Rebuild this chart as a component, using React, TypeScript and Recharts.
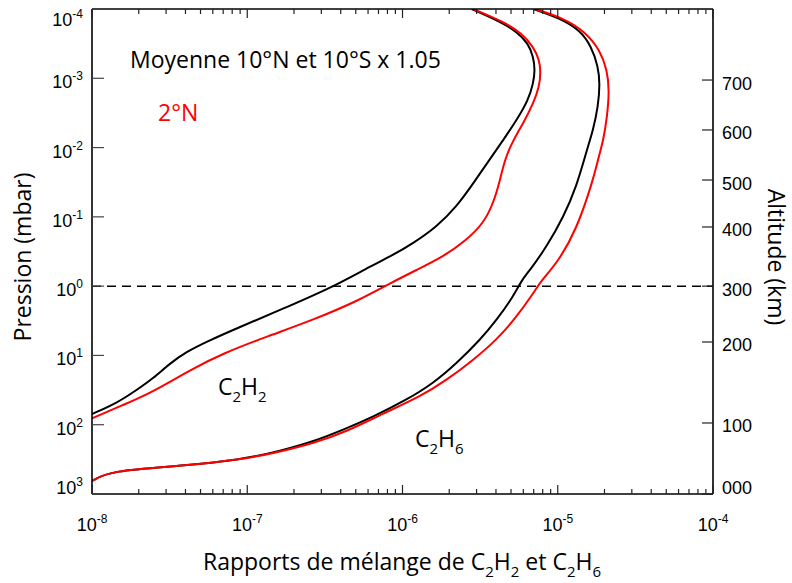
import { LineChart, Line, XAxis, YAxis, ReferenceLine, Label } from "recharts";

// pressure (mbar) decades on the left axis
const pressureTicks = [1e-4, 1e-3, 1e-2, 1e-1, 1, 10, 100, 1000];
// mixing-ratio decades and the minor steps inside each decade
const mixingDecades = [1e-8, 1e-7, 1e-6, 1e-5, 1e-4];
const minorSteps = [2, 3, 4, 5, 6, 7, 8, 9];
// right axis: altitude labels and the pressure level each sits at
const altitudeLabels = ["700", "600", "500", "400", "300", "200", "100", "000"];
const altitudePressures = [1.06e-3, 5.57e-3, 2.94e-2, 0.14, 1, 6.4, 94.4, 1000];

// [mixing ratio, pressure mbar], read top to bottom
const c2h2Mean: [number, number][] = [
  [2.79e-6, 1e-4], [4.25e-6, 1.52e-4], [5.44e-6, 2.13e-4], [6.46e-6, 3.13e-4],
  [6.96e-6, 4.88e-4], [7.14e-6, 7.6e-4], [6.96e-6, 1.18e-3], [6.46e-6, 2.06e-3],
  [5.44e-6, 4.0e-3], [4.46e-6, 7.77e-3], [3.66e-6, 1.46e-2], [2.86e-6, 3.28e-2],
  [2.23e-6, 7.13e-2], [1.66e-6, 0.139], [1.17e-6, 0.241], [8.31e-7, 0.376],
  [5.59e-7, 0.585], [3.58e-7, 1.02], [1.63e-7, 2.21], [8.55e-8, 4.06],
  [5.48e-8, 6.33], [4.07e-8, 8.83], [3.18e-8, 13.0], [2.48e-8, 21.4],
  [1.94e-8, 31.5], [1.44e-8, 49.0], [1e-8, 70],
];

const c2h2North: [number, number][] = [
  [2.85e-6, 1e-4], [4.46e-6, 1.52e-4], [5.86e-6, 2.24e-4], [6.96e-6, 3.5e-4],
  [7.61e-6, 5.44e-4], [7.77e-6, 8.03e-4], [7.61e-6, 1.32e-3], [6.96e-6, 2.3e-3],
  [6.0e-6, 4.46e-3], [5.17e-6, 7.77e-3], [4.57e-6, 1.46e-2], [4.25e-6, 2.94e-2],
  [3.85e-6, 6.37e-2], [3.32e-6, 0.124], [2.59e-6, 0.216], [1.83e-6, 0.376],
  [1.23e-6, 0.585], [8.31e-7, 0.91], [5.32e-7, 1.58], [2.66e-7, 3.08],
  [1.33e-7, 5.36], [7.01e-8, 9.31], [4.28e-8, 16.2], [2.48e-8, 33.4],
  [1.59e-8, 51.9], [1e-8, 80.7],
];

const c2h6Mean: [number, number][] = [
  [6.96e-6, 1e-4], [1.03e-5, 1.36e-4], [1.39e-5, 2.01e-4], [1.65e-5, 3.5e-4],
  [1.82e-5, 6.8e-4], [1.87e-5, 1.18e-3], [1.82e-5, 2.57e-3], [1.69e-5, 5.57e-3],
  [1.54e-5, 1.08e-2], [1.32e-5, 3.67e-2], [1.09e-5, 9.95e-2], [8.49e-6, 0.269],
  [6.63e-6, 0.585], [5.86e-6, 0.815], [5.17e-6, 1.42], [4.04e-6, 3.08],
  [3.16e-6, 5.98], [2.23e-6, 13.0], [1.58e-6, 25.2], [1.06e-6, 44.0],
  [6.48e-7, 76.6], [4.37e-7, 112.6], [2.66e-7, 175.7], [1.63e-7, 239],
  [8.98e-8, 323], [3.69e-8, 394], [1.31e-8, 461], [1e-8, 649],
];

const c2h6North: [number, number][] = [
  [7.14e-6, 1e-4], [1.09e-5, 1.36e-4], [1.5e-5, 2.13e-4], [1.87e-5, 3.9e-4],
  [2.08e-5, 7.6e-4], [2.15e-5, 1.48e-3], [2.08e-5, 3.58e-3], [1.97e-5, 7.77e-3],
  [1.82e-5, 1.46e-2], [1.69e-5, 2.94e-2], [1.32e-5, 0.155], [9.89e-6, 0.468],
  [7.88e-6, 0.815], [6.96e-6, 1.27], [5.44e-6, 2.76], [4.04e-6, 5.98],
  [2.86e-6, 11.6], [1.93e-6, 22.6], [1.3e-6, 39.4], [7.52e-7, 68.4],
  [4.37e-7, 126], [2.66e-7, 185], [1.63e-7, 245], [8.98e-8, 323],
  [3.69e-8, 394], [1.31e-8, 461], [1e-8, 649],
];

const toPoints = (pairs: [number, number][]) => pairs.map(([x, p]) => ({ x, p }));

const xTicks = mixingDecades.flatMap((d, i) =>
  i < mixingDecades.length - 1 ? [d, ...minorSteps.map((m) => m * d)] : [d]
);

const tickFont = "'Liberation Sans', Arial, sans-serif";
const titleFont = "'Open Sans', 'Noto Sans', sans-serif";

const isDecade = (v: number) => {
  const l = Math.log10(v);
  return Math.abs(l - Math.round(l)) < 1e-6;
};

function Power({ x, y, v, anchor }: { x: number; y: number; v: number; anchor: string }) {
  return (
    <text x={x} y={y} textAnchor={anchor} fontSize={18} fontFamily={tickFont} fill="#000">
      10
      <tspan dy={-8} fontSize={12}>
        {Math.round(Math.log10(v))}
      </tspan>
    </text>
  );
}

function LeftTick({ x, y, payload }: any) {
  const base = Math.min(Math.max(y + 10, 26), 494);
  return (
    <g>
      <line x1={x} x2={x + 12} y1={y} y2={y} stroke="#444" strokeWidth={1.2} />
      <Power x={x - 9} y={base} v={payload.value} anchor="end" />
    </g>
  );
}

function RightTick({ x, y, payload }: any) {
  const base = Math.min(y + 9.5, 494);
  const label = altitudeLabels[altitudePressures.indexOf(payload.value)];
  return (
    <g>
      <line x1={x - 11} x2={x} y1={y} y2={y} stroke="#222" strokeWidth={1.2} />
      <text x={x + 9} y={base} fontSize={18} fontFamily={tickFont} fill="#000">
        {label}
      </text>
    </g>
  );
}

function BottomTick({ x, y, payload }: any) {
  const major = isDecade(payload.value);
  return (
    <g>
      <line x1={x} x2={x} y1={y} y2={y - (major ? 9 : 5)} stroke="#222" strokeWidth={1.2} />
      {major && <Power x={x} y={y + 37} v={payload.value} anchor="middle" />}
    </g>
  );
}

function TopTick({ x, y, payload }: any) {
  const major = isDecade(payload.value);
  return <line x1={x} x2={x} y1={y} y2={y + (major ? 9 : 5)} stroke="#222" strokeWidth={1.2} />;
}

// "C2Hn" with subscripts
function Formula({ x, y, n }: { x: number; y: number; n: string }) {
  return (
    <text x={x} y={y} fontFamily={titleFont} fontSize={23} fill="#000">
      C<tspan dy={7} fontSize={15}>2</tspan>
      <tspan dy={-7}>H</tspan>
      <tspan dy={7} fontSize={15}>{n}</tspan>
    </text>
  );
}

export default function App() {
  const frame = { stroke: "#000", strokeWidth: 1.6 };
  const curve = { xAxisId: "x", yAxisId: "p", dataKey: "p", type: "basis" as const, strokeWidth: 2, dot: false, isAnimationActive: false };
  return (
    <div style={{ position: "absolute", left: 0, top: 0, width: 792, height: 583, background: "#fff" }}>
      <LineChart width={792} height={583} margin={{ top: 0, right: 0, bottom: 0, left: 0 }}>
        <XAxis
          xAxisId="x"
          type="number"
          dataKey="x"
          scale="log"
          domain={[1e-8, 1e-4]}
          allowDataOverflow
          ticks={xTicks}
          interval={0}
          tickSize={0}
          tickMargin={0}
          tickLine={false}
          tick={<BottomTick />}
          axisLine={frame}
          height={89}
        >
          <Label
            content={() => (
              <text x={402} y={570} textAnchor="middle" fontSize={23} fontFamily={titleFont} fill="#000">
                Rapports de mélange de C<tspan dy={7} fontSize={15}>2</tspan>
                <tspan dy={-7}>H</tspan>
                <tspan dy={7} fontSize={15}>2</tspan>
                <tspan dy={-7}> et C</tspan>
                <tspan dy={7} fontSize={15}>2</tspan>
                <tspan dy={-7}>H</tspan>
                <tspan dy={7} fontSize={15}>6</tspan>
              </text>
            )}
          />
        </XAxis>
        <XAxis
          xAxisId="xt"
          orientation="top"
          type="number"
          dataKey="x"
          scale="log"
          domain={[1e-8, 1e-4]}
          allowDataOverflow
          ticks={xTicks}
          interval={0}
          tickSize={0}
          tickMargin={0}
          tickLine={false}
          tick={<TopTick />}
          axisLine={frame}
          height={9}
        />
        <YAxis
          yAxisId="p"
          type="number"
          scale="log"
          domain={[1e-4, 1000]}
          allowDataOverflow
          reversed
          ticks={pressureTicks}
          interval={0}
          tickSize={0}
          tickMargin={0}
          tickLine={false}
          tick={<LeftTick />}
          axisLine={frame}
          width={92}
        >
          <Label
            content={() => (
              <text transform="translate(31, 257) rotate(-90)" textAnchor="middle" fontSize={23} fontFamily={titleFont} fill="#000">
                Pression (mbar)
              </text>
            )}
          />
        </YAxis>
        <YAxis
          yAxisId="alt"
          orientation="right"
          type="number"
          scale="log"
          domain={[1e-4, 1000]}
          allowDataOverflow
          reversed
          ticks={altitudePressures}
          interval={0}
          tickSize={0}
          tickMargin={0}
          tickLine={false}
          tick={<RightTick />}
          axisLine={frame}
          width={79}
        >
          <Label
            content={() => (
              <text transform="translate(768, 257) rotate(90)" textAnchor="middle" fontSize={23} fontFamily={titleFont} fill="#000">
                Altitude (km)
              </text>
            )}
          />
        </YAxis>

        <ReferenceLine xAxisId="x" yAxisId="p" y={1} stroke="#000" strokeWidth={1.5} strokeDasharray="9 6" />

        <Line {...curve} data={toPoints(c2h2Mean)} stroke="#000" />
        <Line {...curve} data={toPoints(c2h6Mean)} stroke="#000" />
        <Line {...curve} data={toPoints(c2h2North)} stroke="#ff0000" />
        <Line {...curve} data={toPoints(c2h6North)} stroke="#ff0000" />

        <g fontFamily={titleFont} fontSize={23} fill="#000">
          <text x={130} y={68}>Moyenne 10°N et 10°S x 1.05</text>
          <text x={158} y={121} fill="#ff0000">2°N</text>
        </g>
        <Formula x={218} y={395} n="2" />
        <Formula x={415} y={447} n="6" />
      </LineChart>
    </div>
  );
}
